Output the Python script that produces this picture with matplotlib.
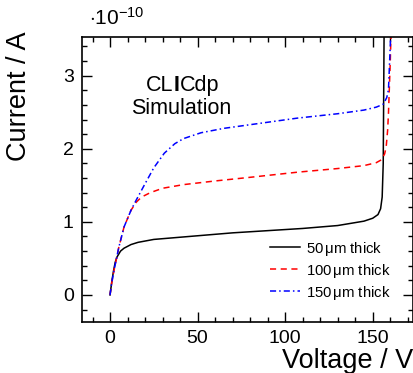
import numpy as np
import matplotlib
matplotlib.use('Agg')
import matplotlib.pyplot as plt
from matplotlib.ticker import MultipleLocator

plt.rcParams['font.family'] = ['Liberation Sans', 'DejaVu Sans']
plt.rcParams['mathtext.fontset'] = 'custom'
plt.rcParams['mathtext.rm'] = 'Liberation Sans'
plt.rcParams['mathtext.it'] = 'Liberation Sans:italic'

# current in units of 1e-10 A, voltage in V
v50 = [0, 1, 2, 3, 4, 6, 8, 12, 16, 25, 35, 50, 70, 90, 110, 130, 145, 150,
       153, 154.5, 155.4, 156, 156.5]
i50 = [0, 0.18, 0.33, 0.45, 0.52, 0.60, 0.64, 0.69, 0.72, 0.76, 0.78, 0.81,
       0.85, 0.88, 0.91, 0.95, 1.01, 1.05, 1.10, 1.18, 1.34, 1.8, 3.6]

v100 = [0, 1, 2.3, 5, 8, 12, 15, 18, 23, 30, 42, 60, 80, 107, 130, 145, 152,
        155, 156.8, 157.7, 158.5, 159, 160, 160.5]
i100 = [0, 0.17, 0.34, 0.65, 0.93, 1.16, 1.27, 1.34, 1.40, 1.46, 1.51, 1.56,
        1.61, 1.68, 1.73, 1.77, 1.81, 1.85, 1.93, 2.03, 2.25, 2.49, 3.18, 3.6]

v150 = [0, 1, 2.3, 5, 8, 12, 15, 19.5, 25, 31, 37, 42, 52, 65, 80, 107, 130,
        145, 152, 156, 158, 159, 160, 160.3]
i150 = [0, 0.17, 0.34, 0.65, 0.93, 1.16, 1.30, 1.50, 1.74, 1.94, 2.07, 2.14,
        2.22, 2.28, 2.33, 2.42, 2.48, 2.53, 2.57, 2.61, 2.70, 2.81, 3.40, 3.6]

labels = [r'50$\,\mathrm{\mu}$m thick', r'100$\,\mathrm{\mu}$m thick',
          r'150$\,\mathrm{\mu}$m thick']

fig = plt.figure(figsize=(4.13, 3.73), dpi=100)
ax = fig.add_axes([82 / 413, 1 - 322 / 373, 331 / 413, 285 / 373])

ax.plot(v50, i50, color='black', lw=1.1, label=labels[0])
ax.plot(v100, i100, color='red', lw=1.1, dashes=(4, 3), label=labels[1])
ax.plot(v150, i150, color='blue', lw=1.1, dashes=(4, 2, 1, 2), label=labels[2])

ax.set_xlim(-16, 173)
ax.set_ylim(-0.37, 3.53)

ax.xaxis.set_major_locator(MultipleLocator(50))
ax.xaxis.set_minor_locator(MultipleLocator(10))
ax.yaxis.set_major_locator(MultipleLocator(1))
ax.yaxis.set_minor_locator(MultipleLocator(0.2))
ax.tick_params(which='both', direction='in', top=True, right=True,
               labelsize=14, width=1.0)
ax.tick_params(which='major', length=7)
ax.tick_params(which='minor', length=3.5)
ax.tick_params(axis='x', pad=6)
ax.tick_params(axis='y', pad=6)
for s in ax.spines.values():
    s.set_linewidth(1.2)

ax.set_xlabel('Voltage / V', fontsize=19.5, ha='right')
ax.xaxis.set_label_coords(1.0, -0.09)
ax.set_ylabel('Current / A', fontsize=19.5, ha='right')
ax.yaxis.set_label_coords(-0.15, 1.018)

ax.text(0.02, 1.03, r'$\cdot 10^{-10}$', transform=ax.transAxes,
        fontsize=15, ha='left', va='bottom')

# CLICdp label with bold I
ax.text(0.277, 0.83, 'CL', transform=ax.transAxes, fontsize=15.5, ha='right', va='center')
ax.text(0.277, 0.83, 'I', transform=ax.transAxes, fontsize=15.5, ha='left',
        va='center', fontweight='bold')
ax.text(0.296, 0.83, 'Cdp', transform=ax.transAxes, fontsize=15.5, ha='left', va='center')
ax.text(0.3, 0.75, 'Simulation', transform=ax.transAxes, fontsize=15.5,
        ha='center', va='center')

ax.legend(loc='lower right', bbox_to_anchor=(0.965, 0.035), frameon=False,
          fontsize=10.7, handlelength=2.0, handletextpad=0.45, labelspacing=0.27,
          borderpad=0.2)

fig.savefig('out.png', dpi=100)
